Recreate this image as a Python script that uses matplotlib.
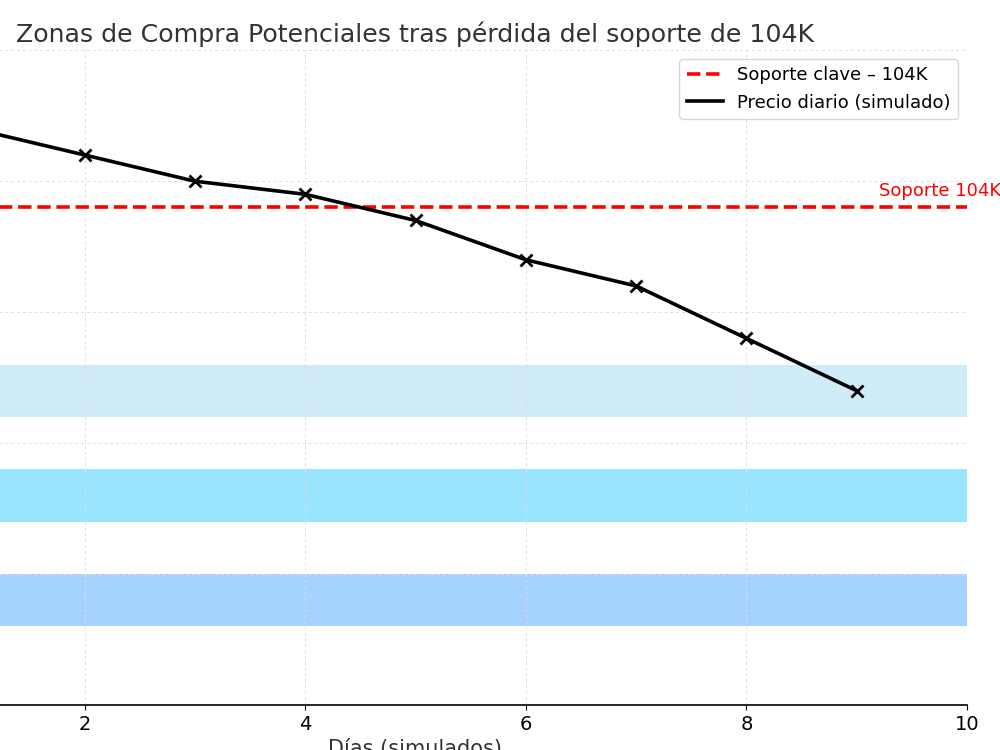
import matplotlib.pyplot as plt

days = [1, 2, 3, 4, 5, 6, 7, 8, 9]
price = [107000, 106000, 105000, 104500, 103500, 102000, 101000, 99000, 97000]
support = 104000
zones = [(96000, 98000), (92000, 94000), (88000, 90000)]
zone_colors = ["skyblue", "deepskyblue", "dodgerblue"]
zone_alpha = [0.4, 0.4, 0.4]


def main():
    fig = plt.figure(figsize=(10, 7.5), dpi=100)
    ax = fig.add_axes([-0.136, 0.06, 1.103, 0.873])

    for (lo, hi), c, a in zip(zones, zone_colors, zone_alpha):
        ax.axhspan(lo, hi, color=c, alpha=a, lw=0)

    ax.axhline(support, color="red", ls="--", lw=2.6, label="Soporte clave – 104K")
    ax.plot(days, price, color="black", lw=2.6, label="Precio diario (simulado)")
    ax.plot(days, price, ls="none", color="black", marker="x", ms=8, mew=2)
    ax.text(9.2, support + 300, "Soporte 104K", color="red", fontsize=13, va="bottom")

    ax.set_xlim(0, 10)
    ax.set_ylim(85000, 110000)
    ax.set_xticks([0, 2, 4, 6, 8, 10])
    ax.set_yticks(range(85000, 110001, 5000))
    ax.tick_params(labelsize=14)
    ax.grid(True, ls=(0, (3, 3)), color="#dddddd", lw=0.7)
    ax.spines["top"].set_visible(False)
    ax.spines["right"].set_visible(False)
    ax.spines["bottom"].set_linewidth(1.2)

    ax.set_title("Zonas de Compra Potenciales tras pérdida del soporte de 104K",
                 fontsize=18.2, color="#333333")
    ax.set_xlabel("Días (simulados)", fontsize=15, color="#333333")
    ax.legend(loc="upper right", fontsize=13)

    fig.savefig("out.png", dpi=100)


if __name__ == "__main__":
    main()
